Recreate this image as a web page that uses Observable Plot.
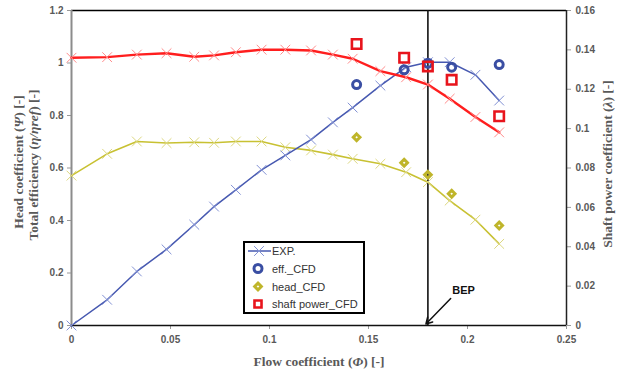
<!DOCTYPE html>
<html><head><meta charset="utf-8">
<script src="https://cdn.jsdelivr.net/npm/d3@7"></script>
<script src="https://cdn.jsdelivr.net/npm/@observablehq/plot@0.6"></script>
<style>
body{margin:0;background:#fff;}
#wrap{position:relative;width:626px;height:372px;}
#legend{position:absolute;left:243px;top:241px;}
</style></head><body><div id="wrap"></div>
<script>
// ---- data ----
const expPhi   = [0, 0.018, 0.033, 0.048, 0.062, 0.072, 0.083, 0.096, 0.108, 0.121, 0.132, 0.142, 0.156, 0.169, 0.180, 0.191, 0.204, 0.216];
const expEff   = [0, 0.098, 0.206, 0.290, 0.384, 0.453, 0.517, 0.593, 0.648, 0.708, 0.774, 0.830, 0.914, 0.984, 1.003, 1.003, 0.955, 0.857];
const expHead  = [0.571, 0.654, 0.701, 0.695, 0.698, 0.696, 0.701, 0.701, 0.679, 0.667, 0.651, 0.635, 0.616, 0.584, 0.546, 0.476, 0.403, 0.311];
const expPower = [0.1360, 0.1363, 0.1376, 0.1383, 0.1365, 0.1372, 0.1388, 0.1401, 0.1401, 0.1397, 0.1376, 0.1355, 0.1292, 0.1261, 0.1224, 0.1152, 0.1059, 0.0981];

const cfdPhi   = [0.144, 0.168, 0.180, 0.192, 0.216];
const cfdEff   = [0.918, 0.974, 0.999, 0.984, 0.994];
const cfdHead  = [0.717, 0.620, 0.574, 0.502, 0.381];
const cfdPower = [0.1430, 0.1360, 0.1316, 0.1248, 0.1063];

const xTicks = [0, 0.05, 0.1, 0.15, 0.2, 0.25];
const xTickLabels = ["0", "0.05", "0.1", "0.15", "0.2", "0.25"];
const yTicks = [0, 0.2, 0.4, 0.6, 0.8, 1, 1.2];
const yTickLabels = ["0", "0.2", "0.4", "0.6", "0.8", "1", "1.2"];
const lambdaTicks = [0, 0.02, 0.04, 0.06, 0.08, 0.1, 0.12, 0.14, 0.16];
const lambdaTickLabels = ["0", "0.02", "0.04", "0.06", "0.08", "0.1", "0.12", "0.14", "0.16"];

const bepPhi = [0.18];
const bepArrow = [{x1: 0.1915, y1: 0.103, x2: 0.1790, y2: 0.006}];
const bepLabel = [{x: 0.198, y: 0.133, text: "BEP"}];

const legendLabels = ["EXP.", "eff._CFD", "head_CFD", "shaft power_CFD"];

// ---- scale mapping: right axis λ onto left axis ----
const yMax = 1.2, lambdaMax = 0.16;
const k = yMax / lambdaMax;
const exp = expPhi.map((phi, i) => ({phi, eff: expEff[i], head: expHead[i], power: expPower[i] * k}));
const cfd = cfdPhi.map((phi, i) => ({phi, eff: cfdEff[i], head: cfdHead[i], power: cfdPower[i] * k}));
const rightPos = lambdaTicks.map(v => v * k);

const C = {
  blueLine: "#4658b0", blueX: "#8291d4", blueDot: "#3a4ea3",
  redLine: "#ff1e1e", redX: "#ff8c8c", redSq: "#e8141c",
  yelLine: "#c8c132", yelX: "#ddd881", yelDia: "#bfb52a",
  tick: "#595959"
};

const plot = Plot.plot({
  width: 626, height: 372,
  marginLeft: 71, marginRight: 60, marginTop: 10, marginBottom: 47,
  x: {domain: [0, 0.25]},
  y: {domain: [0, yMax]},
  style: {fontFamily: "'Liberation Sans', Arial, sans-serif", fontSize: "10px", fontWeight: "bold", color: C.tick, background: "#fff"},
  marks: [
    Plot.axisX(xTicks, {tickFormat: d => xTickLabels[xTicks.indexOf(d)], tickSize: 4, tickPadding: 6, label: null, stroke: "#999", fill: C.tick}),
    Plot.axisY(yTicks, {anchor: "left", tickFormat: d => yTickLabels[yTicks.indexOf(d)], tickSize: 4, tickPadding: 4, label: null, stroke: "#999", fill: C.tick}),
    Plot.axisY(rightPos, {anchor: "right", tickFormat: d => lambdaTickLabels[rightPos.indexOf(d)], tickSize: 4, tickPadding: 5, label: null, stroke: "#999", fill: C.tick}),
    Plot.ruleY([yMax], {stroke: "#000", strokeWidth: 1.5}),
    Plot.ruleX([0.25], {stroke: "#222", strokeWidth: 1.5}),
    Plot.ruleY([0], {stroke: "#111", strokeWidth: 1.5}),
    Plot.ruleX([0], {stroke: "#8c8c8c", strokeWidth: 2}),
    // BEP
    Plot.ruleX(bepPhi, {y1: 0, y2: yMax, stroke: "#111", strokeWidth: 1.6}),
    Plot.arrow(bepArrow, {x1: "x1", y1: "y1", x2: "x2", y2: "y2", stroke: "#111", strokeWidth: 1.5, headLength: 7}),
    Plot.text(bepLabel, {x: "x", y: "y", text: "text", fontSize: 11, fontWeight: "bold", fill: "#111"}),
    // EXP lines
    Plot.line(exp, {x: "phi", y: "head", stroke: C.yelLine, strokeWidth: 1.6}),
    Plot.dot(exp, {x: "phi", y: "head", symbol: "times", r: 4.5, stroke: C.yelX, strokeWidth: 1}),
    Plot.line(exp, {x: "phi", y: "eff", stroke: C.blueLine, strokeWidth: 1.5}),
    Plot.dot(exp, {x: "phi", y: "eff", symbol: "times", r: 4.5, stroke: C.blueX, strokeWidth: 1}),
    Plot.line(exp, {x: "phi", y: "power", stroke: C.redLine, strokeWidth: 2.4}),
    Plot.dot(exp, {x: "phi", y: "power", symbol: "times", r: 4.5, stroke: C.redX, strokeWidth: 1}),
    // CFD
    Plot.dot(cfd, {x: "phi", y: "eff", symbol: "circle", r: 4, stroke: C.blueDot, strokeWidth: 3, fill: "none"}),
    Plot.dot(cfd, {x: "phi", y: "head", symbol: "diamond2", r: 3, stroke: C.yelDia, strokeWidth: 3, fill: "none"}),
    Plot.dot(cfd, {x: "phi", y: "power", symbol: "square2", r: 6, stroke: C.redSq, strokeWidth: 2.6, fill: "none"})
  ]
});

const wrap = document.getElementById("wrap");
wrap.appendChild(plot);

// ---- axis titles with mixed italic ----
const NS = "http://www.w3.org/2000/svg";
function title(parts, x, y, rotate) {
  const t = document.createElementNS(NS, "text");
  t.setAttribute("text-anchor", "middle");
  t.setAttribute("font-family", "'Liberation Serif', 'Times New Roman', serif");
  t.setAttribute("font-size", "13.5");
  t.setAttribute("font-weight", "bold");
  t.setAttribute("fill", "#595959");
  t.setAttribute("transform", `translate(${x},${y})` + (rotate ? " rotate(-90)" : ""));
  for (const [s, it] of parts) {
    const ts = document.createElementNS(NS, "tspan");
    ts.textContent = s;
    if (it) ts.setAttribute("font-style", "italic");
    t.appendChild(ts);
  }
  plot.appendChild(t);
}
title([["Head coefficient (", 0], ["Ψ", 1], [") [-]", 0]], 23, 162, true);
title([["Total efficiency (", 0], ["η/ηref", 1], [") [-]", 0]], 38, 165, true);
title([["Shaft power coefficient (", 0], ["λ", 1], [") [-]", 0]], 612, 164, true);
title([["Flow coefficient (", 0], ["Φ", 1], [") [-]", 0]], 319, 366, false);

// ---- legend ----
const lg = d3.select(wrap).append("svg").attr("id", "legend").attr("width", 122).attr("height", 73);
lg.append("rect").attr("x", 1).attr("y", 1).attr("width", 120).attr("height", 71).attr("fill", "#fff").attr("stroke", "#000").attr("stroke-width", 2);
const rows = [10, 27.5, 45.5, 63];
const sym = (type, size) => d3.symbol(type, size)();
// EXP
lg.append("line").attr("x1", 5).attr("x2", 28).attr("y1", rows[0]).attr("y2", rows[0]).attr("stroke", C.blueLine).attr("stroke-width", 1.5);
lg.append("path").attr("d", sym(d3.symbolTimes, 64)).attr("transform", `translate(16,${rows[0]})`).attr("fill", "none").attr("stroke", C.blueX);
lg.append("path").attr("d", sym(d3.symbolCircle, 16 * Math.PI)).attr("transform", `translate(15,${rows[1]})`).attr("fill", "none").attr("stroke", C.blueDot).attr("stroke-width", 3);
lg.append("path").attr("d", sym(d3.symbolDiamond2, 9 * Math.PI)).attr("transform", `translate(15,${rows[2]})`).attr("fill", "none").attr("stroke", C.yelDia).attr("stroke-width", 3);
lg.append("path").attr("d", sym(d3.symbolSquare2, 20 * Math.PI)).attr("transform", `translate(15,${rows[3]})`).attr("fill", "none").attr("stroke", C.redSq).attr("stroke-width", 2.6);
lg.selectAll("text.l").data(legendLabels).join("text")
  .attr("x", 29).attr("y", (d, i) => rows[i] + 4)
  .attr("font-family", "'Liberation Sans', Arial, sans-serif").attr("font-size", 11).attr("fill", "#333")
  .text(d => d);
</script></body></html>
